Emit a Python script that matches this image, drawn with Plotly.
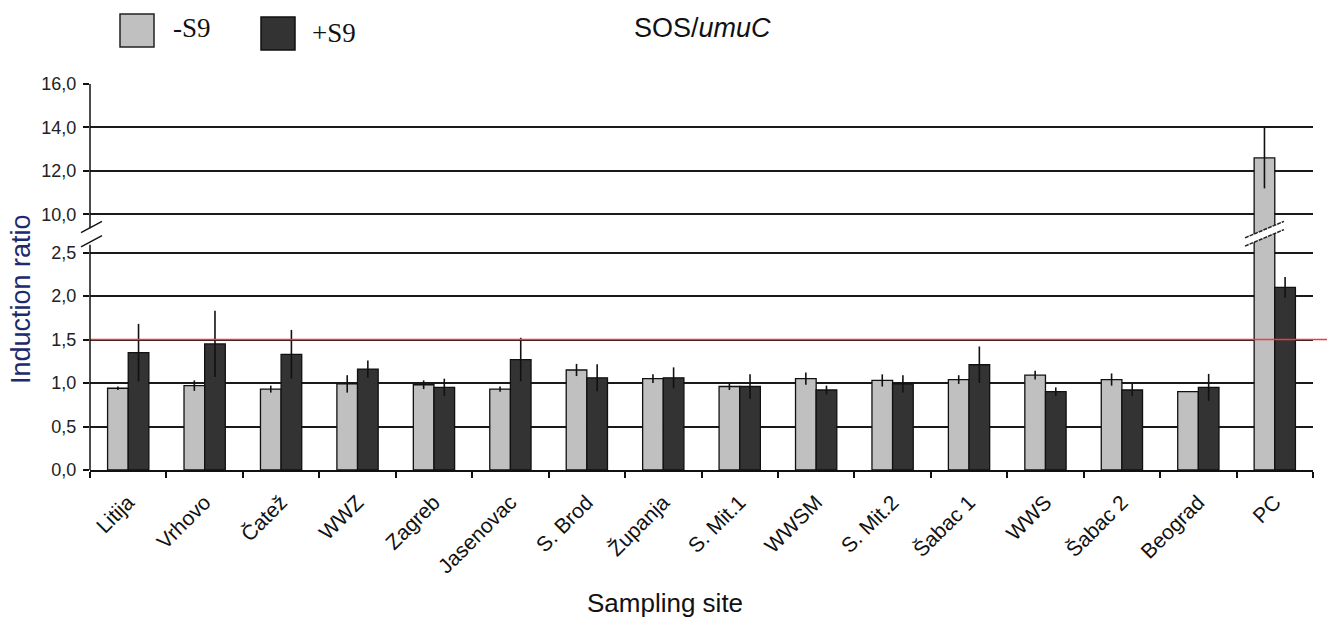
import plotly.graph_objects as go

# ---------------- data ----------------
SITES = ["Litija", "Vrhovo", "Čatež", "WWZ", "Zagreb", "Jasenovac", "S. Brod",
         "Županja", "S. Mit.1", "WWSM", "S. Mit.2", "Šabac 1", "WWS", "Šabac 2",
         "Beograd", "PC"]
SERIES = ["-S9", "+S9"]
MINUS_S9 = [0.94, 0.97, 0.93, 0.99, 0.98, 0.93, 1.15, 1.05, 0.96, 1.05, 1.03,
            1.04, 1.09, 1.04, 0.90, 12.6]
MINUS_S9_ERR = [0.02, 0.06, 0.04, 0.10, 0.05, 0.03, 0.07, 0.05, 0.04, 0.07,
                0.07, 0.05, 0.05, 0.07, 0.0, 1.4]
PLUS_S9 = [1.35, 1.45, 1.33, 1.16, 0.95, 1.27, 1.06, 1.06, 0.96, 0.92, 0.99,
           1.21, 0.90, 0.92, 0.95, 2.10]
PLUS_S9_ERR = [0.33, 0.38, 0.28, 0.10, 0.10, 0.25, 0.155, 0.12, 0.14, 0.05,
               0.10, 0.21, 0.05, 0.07, 0.155, 0.12]
THRESHOLD = 1.5
Y_TICKS = [0, 0.5, 1.0, 1.5, 2.0, 2.5, 10, 12, 14, 16]
Y_TICK_TEXT = ["0,0", "0,5", "1,0", "1,5", "2,0", "2,5", "10,0", "12,0", "14,0", "16,0"]

# ---------------- broken axis transform ----------------
LOWER_MAX = 2.5
UPPER_MIN = 10.0
UPPER_MAX = 16.0
GAP = 0.438
UPPER_SCALE = 0.25


def T(v):
    if v <= LOWER_MAX:
        return v
    if v >= UPPER_MIN:
        return LOWER_MAX + GAP + (v - UPPER_MIN) * UPPER_SCALE
    return LOWER_MAX + (v - LOWER_MAX) / (UPPER_MIN - LOWER_MAX) * GAP


def trans(vals, errs):
    y = [T(v) for v in vals]
    up = [T(v + e) - T(v) for v, e in zip(vals, errs)]
    dn = [T(v) - T(v - e) for v, e in zip(vals, errs)]
    return y, up, dn


COLORS = ["#c0c0c0", "#333333"]
FONT = "Liberation Sans, Arial, sans-serif"
SERIF = "Liberation Serif, Times New Roman, serif"

fig = go.Figure()
for name, vals, errs, col in [(SERIES[0], MINUS_S9, MINUS_S9_ERR, COLORS[0]),
                              (SERIES[1], PLUS_S9, PLUS_S9_ERR, COLORS[1])]:
    y, up, dn = trans(vals, errs)
    fig.add_trace(go.Bar(
        x=SITES, y=y, name=name, showlegend=False,
        marker=dict(color=col, line=dict(color="#111111", width=1.3)),
        error_y=dict(type="data", symmetric=False, array=up, arrayminus=dn,
                     color="#111111", thickness=1.6, width=0),
        hoverinfo="skip",
    ))

top = T(UPPER_MAX)
shapes = []
# threshold line
shapes.append(dict(type="line", xref="paper", yref="y", x0=0, x1=1.0115,
                   y0=THRESHOLD, y1=THRESHOLD, layer="above",
                   line=dict(color="#f23a3a", width=1.5)))
# y-axis line, broken
mid = LOWER_MAX + GAP / 2
shapes.append(dict(type="line", xref="paper", yref="y", x0=0, x1=0,
                   y0=0, y1=mid - 0.13, line=dict(color="#111111", width=1.5)))
shapes.append(dict(type="line", xref="paper", yref="y", x0=0, x1=0,
                   y0=mid + 0.06, y1=top, line=dict(color="#111111", width=1.5)))
for dy in (-0.095, 0.07):
    shapes.append(dict(type="line", xref="paper", yref="y", xsizemode="pixel",
                       xanchor=0, x0=-9, x1=12,
                       y0=mid + dy - 0.06, y1=mid + dy + 0.07,
                       line=dict(color="#111111", width=1.4)))
# break mark on PC bar
pc = len(SITES) - 1
x0, x1 = pc - 0.39, pc + 0.12
shapes.append(dict(type="path", xref="x", yref="y",
                   path=f"M {x0},{mid-0.145} L {x1},{mid+0.045} L {x1},{mid+0.14} L {x0},{mid-0.05} Z",
                   fillcolor="white", line=dict(width=0), layer="above"))
for yy in (mid - 0.145, mid - 0.05):
    shapes.append(dict(type="line", xref="x", yref="y", x0=x0, x1=x1,
                       y0=yy, y1=yy + 0.19, layer="above",
                       line=dict(color="#222222", width=1.5, dash="4px,1px")))
# legend squares
shapes.append(dict(type="rect", xref="paper", yref="paper",
                   x0=(120 - 90) / 1223, x1=(154 - 90) / 1223,
                   y0=(470 - 47) / 386, y1=(470 - 14) / 386,
                   fillcolor=COLORS[0], line=dict(color="#222222", width=1.5)))
shapes.append(dict(type="rect", xref="paper", yref="paper",
                   x0=(261 - 90) / 1223, x1=(295 - 90) / 1223,
                   y0=(470 - 50) / 386, y1=(470 - 17) / 386,
                   fillcolor=COLORS[1], line=dict(color="#111111", width=1.5)))

annotations = [
    dict(text=SERIES[0], xref="paper", yref="paper", x=(171 - 90) / 1223,
         y=(470 - 28) / 386, xanchor="left", yanchor="middle", showarrow=False,
         font=dict(family=SERIF, size=27, color="#111111")),
    dict(text=SERIES[1], xref="paper", yref="paper", x=(310 - 90) / 1223,
         y=(470 - 33) / 386, xanchor="left", yanchor="middle", showarrow=False,
         font=dict(family=SERIF, size=27, color="#111111")),
    dict(text="SOS/<i>umuC</i>", xref="paper", yref="paper", x=(702 - 90) / 1223,
         y=(470 - 28) / 386, xanchor="center", yanchor="middle", showarrow=False,
         font=dict(family=FONT, size=27, color="#111111")),
    dict(text="Induction ratio", xref="paper", yref="paper", x=(21 - 90) / 1223,
         y=(470 - 299) / 386, xanchor="center", yanchor="middle", textangle=-90,
         showarrow=False, font=dict(family=FONT, size=27, color="#1c2a6e")),
    dict(text="Sampling site", xref="paper", yref="paper", x=(665 - 90) / 1223,
         y=(470 - 603) / 386, xanchor="center", yanchor="middle", showarrow=False,
         font=dict(family=FONT, size=26, color="#111111")),
]

fig.update_layout(
    width=1327, height=620,
    margin=dict(l=90, r=14, t=84, b=150),
    paper_bgcolor="white", plot_bgcolor="white",
    barmode="group", bargap=0.46, bargroupgap=0,
    shapes=shapes, annotations=annotations,
    font=dict(family=FONT, color="#111111"),
)
fig.update_xaxes(
    type="category", range=[-0.5, len(SITES) - 0.5],
    tickson="boundaries", ticks="outside", ticklen=6, tickwidth=1.5,
    tickcolor="#111111", showline=True, linecolor="#111111", linewidth=1.5,
    tickangle=-45, tickfont=dict(family=FONT, size=21, color="#111111"),
    ticklabelstandoff=10, showgrid=False,
)
fig.update_yaxes(
    range=[0, top], tickvals=[T(v) for v in Y_TICKS], ticktext=Y_TICK_TEXT,
    ticks="outside", ticklen=6, tickwidth=1.5, tickcolor="#111111",
    showline=False, showgrid=True, gridcolor="#1a1a1a", gridwidth=1.6,
    zeroline=False, tickfont=dict(family=FONT, size=18, color="#222222"),
    ticklabelstandoff=3,
)

fig.write_html("out.html", config={"displayModeBar": False},
               post_script="document.body.style.margin='0';document.body.style.overflow='hidden';")
